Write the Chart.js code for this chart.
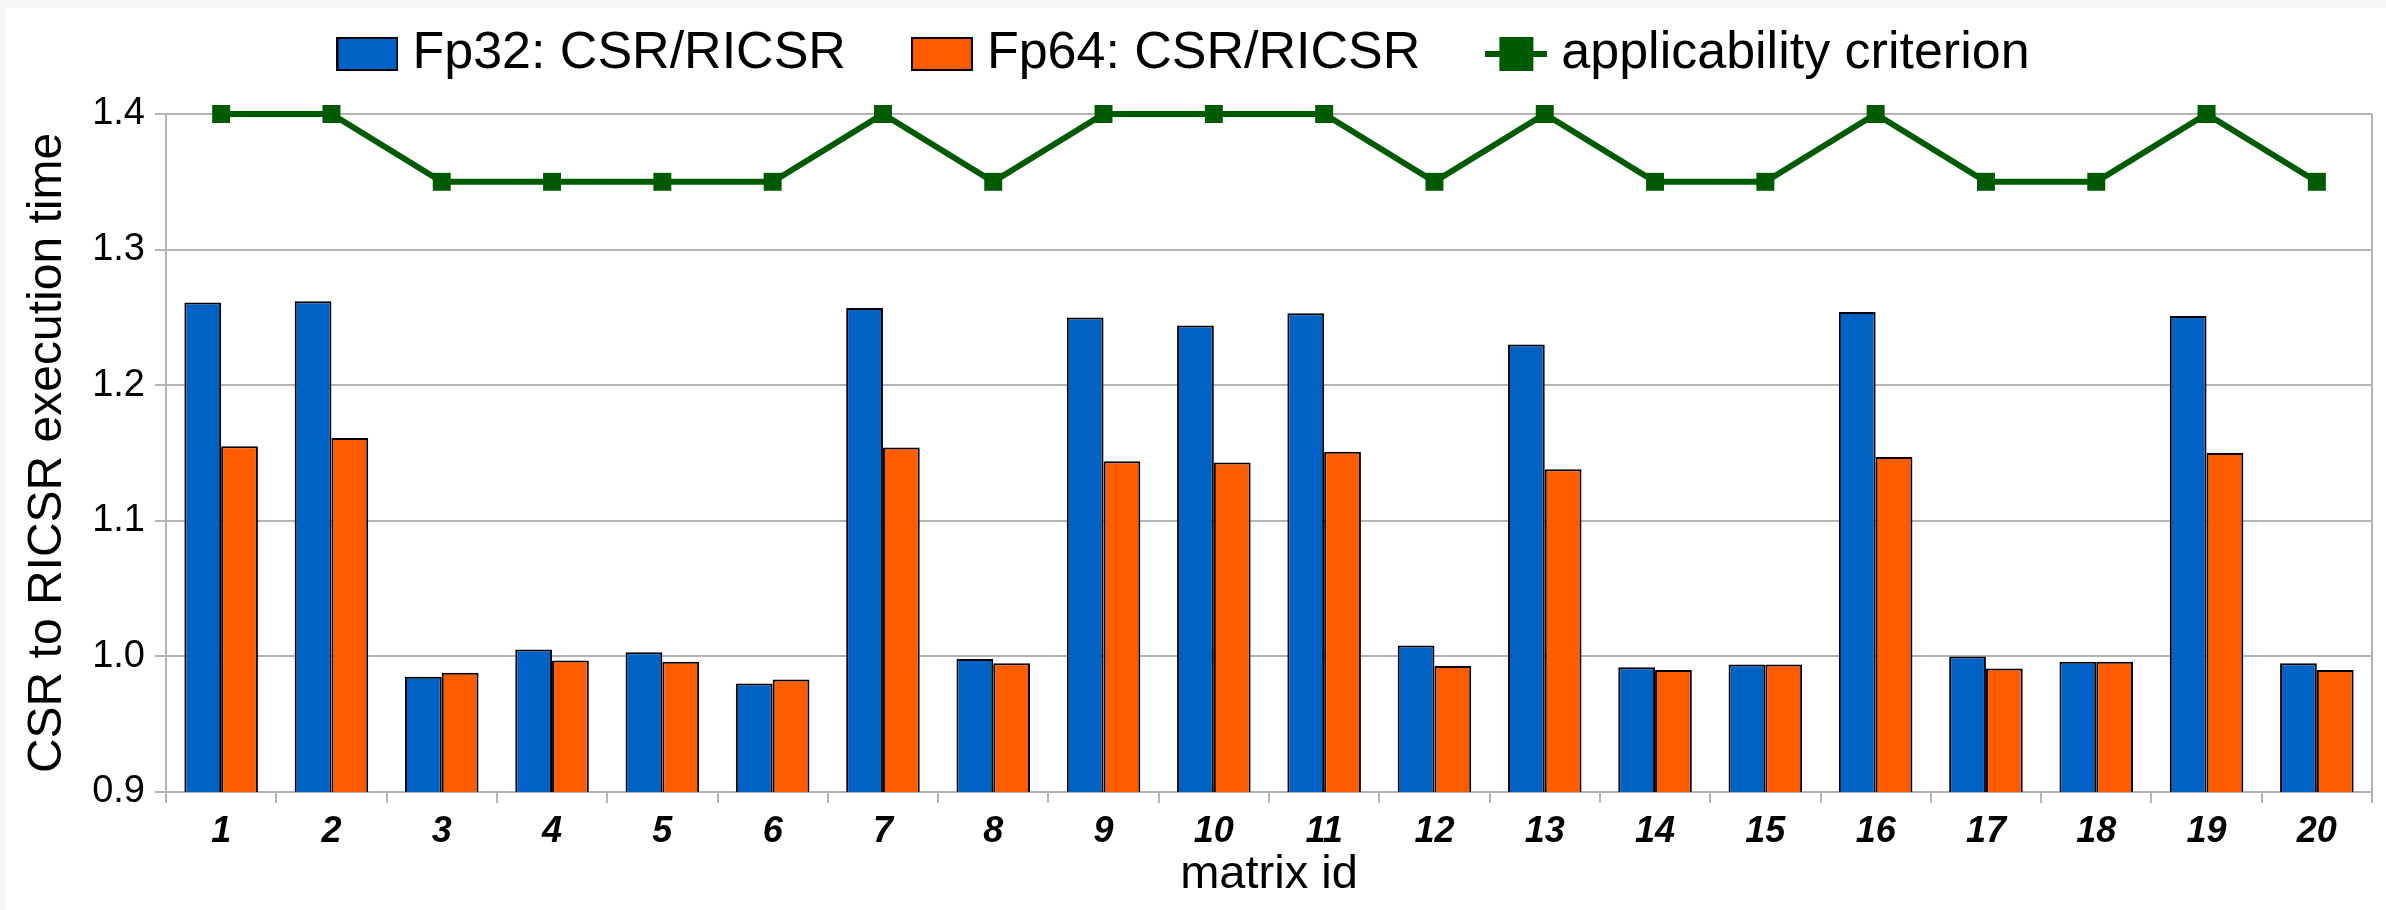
<!DOCTYPE html>
<html>
<head>
<meta charset="utf-8">
<script src="https://cdn.jsdelivr.net/npm/chart.js@4.4.1/dist/chart.umd.min.js"></script>
<style>
  html, body { margin: 0; padding: 0; background: #f7f7f7; width: 2386px; height: 910px; overflow: hidden; }
  #frame { position: absolute; left: 6px; top: 8px; width: 2380px; height: 902px; background: #ffffff; }
  canvas { display: block; }
</style>
</head>
<body>
<div id="frame"><canvas id="chart" width="2380" height="902" style="width:2380px;height:902px"></canvas></div>
<script>
// ---- data ----
const categories = ['1','2','3','4','5','6','7','8','9','10','11','12','13','14','15','16','17','18','19','20'];
const fp32Ratio = [1.261, 1.262, 0.985, 1.005, 1.003, 0.980, 1.257, 0.998, 1.250, 1.244, 1.253, 1.008, 1.230, 0.992, 0.994, 1.254, 1.000, 0.996, 1.251, 0.995];
const fp64Ratio = [1.155, 1.161, 0.988, 0.997, 0.996, 0.983, 1.154, 0.995, 1.144, 1.143, 1.151, 0.993, 1.138, 0.990, 0.994, 1.147, 0.991, 0.996, 1.150, 0.990];
const criterion = [1.40, 1.40, 1.35, 1.35, 1.35, 1.35, 1.40, 1.35, 1.40, 1.40, 1.40, 1.35, 1.40, 1.35, 1.35, 1.40, 1.35, 1.35, 1.40, 1.35];
const yTickValues = [0.9, 1.0, 1.1, 1.2, 1.3, 1.4];
const seriesNames = ['Fp32: CSR/RICSR', 'Fp64: CSR/RICSR', 'applicability criterion'];

// ---- style ----
const FONT = "'Liberation Sans', Arial, sans-serif";
const BLUE = '#0062c4';
const ORANGE = '#ff5c00';
const GREEN = '#005a00';
const GRID = '#b3b3b3';

function boxImage(fill) {
  const c = document.createElement('canvas');
  c.width = 62; c.height = 34;
  const g = c.getContext('2d');
  g.fillStyle = fill;
  g.fillRect(1, 1, 60, 32);
  g.strokeStyle = '#000';
  g.lineWidth = 2;
  g.strokeRect(1, 1, 60, 32);
  return c;
}
function lineImage(color) {
  const c = document.createElement('canvas');
  c.width = 62; c.height = 34;
  const g = c.getContext('2d');
  g.strokeStyle = color;
  g.lineWidth = 6;
  g.beginPath(); g.moveTo(0, 17); g.lineTo(62, 17); g.stroke();
  g.fillStyle = color;
  g.fillRect(14, 0, 34, 34);
  return c;
}
const legendImages = [boxImage(BLUE), boxImage(ORANGE), lineImage(GREEN)];

const legendSpacer = {
  id: 'legendSpacer',
  beforeInit(chart) {
    const baseFit = chart.legend.fit;
    chart.legend.fit = function () { baseFit.call(this); this.height = 163; };
  }
};

new Chart(document.getElementById('chart'), {
  type: 'bar',
  data: {
    labels: categories,
    datasets: [
      {
        label: seriesNames[0], data: fp32Ratio,
        backgroundColor: BLUE, borderColor: '#000', borderWidth: 2, borderSkipped: false,
        categoryPercentage: 0.667, barPercentage: 1.0
      },
      {
        label: seriesNames[1], data: fp64Ratio,
        backgroundColor: ORANGE, borderColor: '#000', borderWidth: 2, borderSkipped: false,
        categoryPercentage: 0.667, barPercentage: 1.0
      },
      {
        type: 'line', label: seriesNames[2], data: criterion,
        borderColor: GREEN, backgroundColor: GREEN, borderWidth: 6, tension: 0,
        pointStyle: 'rect', pointRadius: 12.7, pointHoverRadius: 12.7,
        pointBackgroundColor: GREEN, pointBorderColor: GREEN, pointBorderWidth: 0,
        clip: false
      }
    ]
  },
  options: {
    responsive: false,
    devicePixelRatio: 1,
    animation: false,
    layout: { padding: { top: -57, left: 0, right: 14, bottom: 0 } },
    plugins: {
      tooltip: { enabled: false },
      legend: {
        position: 'top',
        labels: {
          usePointStyle: true,
          pointStyleWidth: 38,
          padding: 77,
          color: '#000',
          font: { family: FONT, size: 52 },
          generateLabels(chart) {
            const items = Chart.defaults.plugins.legend.labels.generateLabels(chart);
            items.forEach((it, i) => { it.pointStyle = legendImages[i]; });
            return items;
          }
        }
      }
    },
    scales: {
      x: {
        offset: true,
        afterFit(scale) { scale.height = 118; },
        grid: {
          offset: true,
          drawOnChartArea: true,
          color: (c) => (c.index === 0 || c.type === 'scale') ? GRID : 'rgba(0,0,0,0)',
          tickColor: GRID,
          tickLength: 11,
          lineWidth: 2
        },
        border: { color: GRID, width: 2 },
        ticks: {
          color: '#000',
          padding: 11.5,
          maxRotation: 0,
          font: { family: FONT, size: 36, weight: 'bold', style: 'italic', lineHeight: 1 }
        },
        title: {
          display: true,
          text: 'matrix id',
          color: '#000',
          font: { family: FONT, size: 47, lineHeight: 1 },
          padding: { top: 0, bottom: 11 }
        }
      },
      y: {
        min: 0.9,
        max: 1.4,
        afterFit(scale) { scale.width = 160; },
        afterBuildTicks(scale) { scale.ticks = yTickValues.map(v => ({ value: v })); },
        grid: { color: GRID, tickColor: GRID, tickLength: 11, lineWidth: 2 },
        border: { color: GRID, width: 2 },
        ticks: {
          color: '#000',
          padding: 10,
          font: { family: FONT, size: 38 },
          callback: (v) => Number(v).toFixed(1)
        },
        title: {
          display: true,
          text: 'CSR to RICSR execution time',
          color: '#000',
          font: { family: FONT, size: 48, lineHeight: 1 },
          padding: { top: 18, bottom: 0 }
        }
      }
    }
  },
  plugins: [legendSpacer]
});
</script>
</body>
</html>
